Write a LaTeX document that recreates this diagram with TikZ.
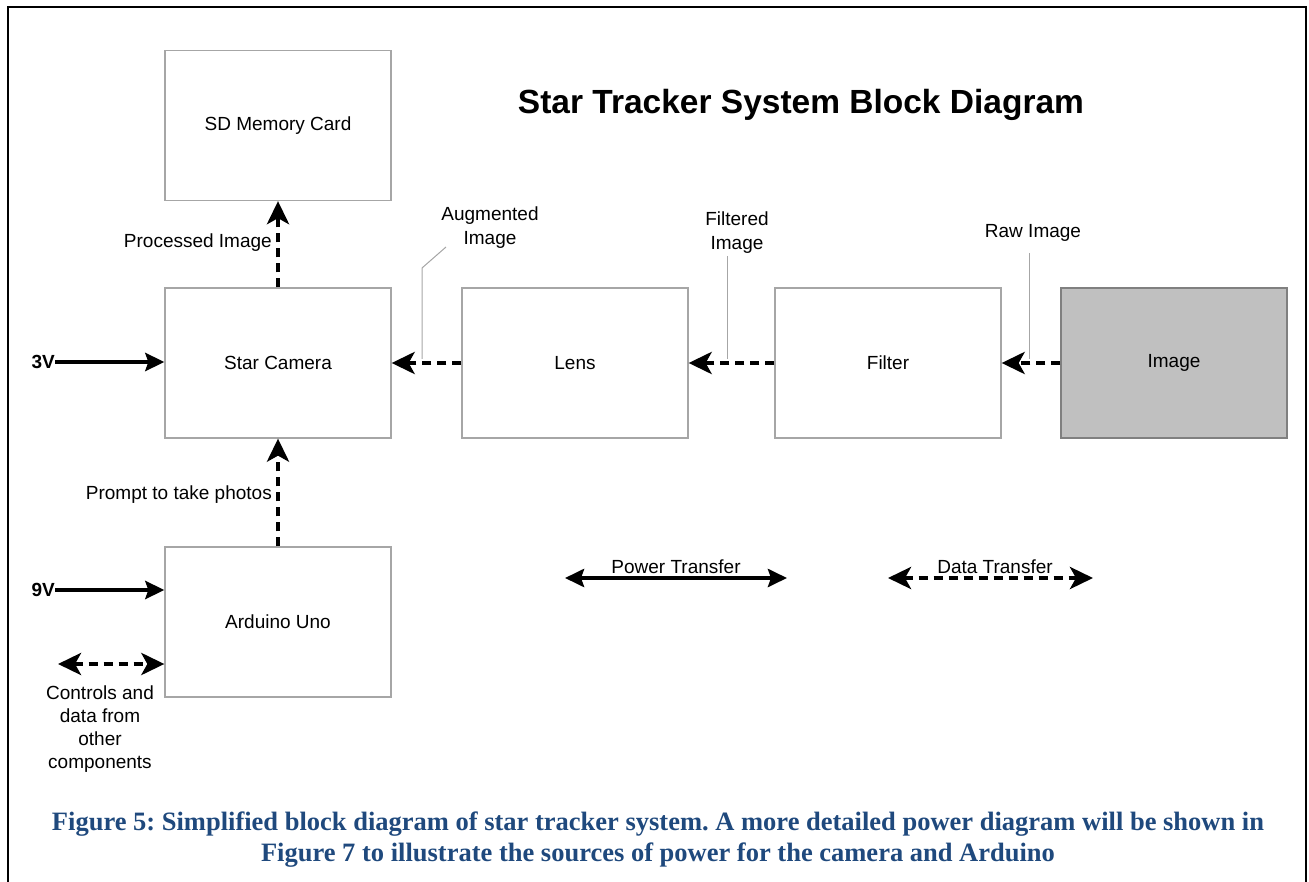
\documentclass[tikz,border=0pt]{standalone}
\usepackage{fontspec}
\setmainfont{Liberation Sans}
\newfontfamily\capfont{Liberation Serif}
\usetikzlibrary{arrows.meta}
\definecolor{capblue}{HTML}{1F497D}
\definecolor{boxgray}{HTML}{A6A6A6}
\definecolor{imgfill}{HTML}{C0C0C0}
\tikzset{
  blockbox/.style={draw=boxgray, line width=1.3pt, minimum width=226pt, minimum height=150pt, inner sep=0pt, font=\fontsize{19}{23}\selectfont},
  lbl/.style={font=\fontsize{19}{24}\selectfont, inner sep=0pt, align=center},
  pwr/.style={line width=4.5pt, -{Stealth[length=19pt,width=18pt,inset=3pt]}},
  pwrboth/.style={line width=4.5pt, {Stealth[length=19pt,width=18pt,inset=3pt]}-{Stealth[length=19pt,width=18pt,inset=3pt]}},
  dat/.style={line width=4.5pt, dash pattern=on 9pt off 6pt, -{Stealth[length=23pt,width=22pt,inset=6pt]}},
  datboth/.style={line width=4.5pt, dash pattern=on 9pt off 6pt, {Stealth[length=23pt,width=22pt,inset=6pt]}-{Stealth[length=23pt,width=22pt,inset=6pt]}},
  leader/.style={draw=boxgray, line width=1pt}
}
\begin{document}
\begin{tikzpicture}[x=1pt,y=-1pt]
\useasboundingbox (0,0) rectangle (1309,882);
% frame
\draw[line width=2.5pt] (8,890) -- (8,7) -- (1306,7) -- (1306,890);
% title
\node[font=\bfseries\fontsize{33.5}{36}\selectfont, inner sep=0pt] (title) at (801,105) {Star Tracker System Block Diagram};
% blocks
\node[blockbox] (sd) at (278,125.5) {SD Memory Card};
\node[blockbox] (cam) at (278,363) {Star Camera};
\node[blockbox] (lens) at (575,363) {Lens};
\node[blockbox] (filter) at (888,363) {Filter};
\node[blockbox, fill=imgfill, draw=gray] (img) at (1174,363) {Image};
\node[blockbox] (ard) at (278,622) {Arduino Uno};
% data flows
\draw[dat] (cam.north) -- (sd.south);
\node[lbl, anchor=east] (proc) at (272,243) {Processed Image};
\draw[dat] (lens.west) -- (cam.east);
\draw[dat] (filter.west) -- (lens.east);
\draw[dat] (img.west) -- (filter.east);
\draw[dat] (ard.north) -- (cam.south);
\node[lbl, anchor=east] (prompt) at (272,495) {Prompt to take photos};
% labels with leaders
\node[lbl] (aug) at (490,228) {Augmented\\Image};
\node[lbl] (filt) at (737,233) {Filtered\\Image};
\node[lbl] (raw) at (1033,233) {Raw Image};
\coordinate (augA) at (446,247);
\coordinate (augB) at (422,268);
\coordinate (augC) at (422,359);
\draw[leader] (augA) -- (augB) -- (augC);
\coordinate (filA) at (727,256);
\coordinate (filB) at (727,359);
\draw[leader] (filA) -- (filB);
\coordinate (rawA) at (1029,253);
\coordinate (rawB) at (1029,359);
\draw[leader] (rawA) -- (rawB);
% power inputs
\node[lbl, font=\bfseries\fontsize{19}{23}\selectfont, anchor=east] (v3) at (55,362) {3V};
\draw[pwr] (v3.east) -- (v3.east -| cam.west);
\node[lbl, font=\bfseries\fontsize{19}{23}\selectfont, anchor=east] (v9) at (55,590) {9V};
\draw[pwr] (v9.east) -- (v9.east -| ard.west);
% controls
\coordinate (ctlL) at (58,664);
\draw[datboth] (ctlL) -- (ctlL -| ard.west);
\node[lbl, font=\fontsize{19}{23}\selectfont] (ctl) at (100,729.5) {Controls and\\data from\\other\\components};
% legend
\coordinate (pwL) at (565,578);
\coordinate (pwR) at (787,578);
\draw[pwrboth] (pwL) -- (pwR);
\node[lbl] (pwlbl) at (676,567) {Power Transfer};
\coordinate (dtL) at (888,578);
\coordinate (dtR) at (1093,578);
\draw[datboth] (dtL) -- (dtR);
\node[lbl] (dtlbl) at (995,567) {Data Transfer};
% caption
\node[font=\capfont\bfseries\fontsize{26.5}{31}\selectfont, text=capblue, align=center, inner sep=0pt] (cap) at (658,840) {\frenchspacing Figure 5: Simplified block diagram of star tracker system. A more detailed power diagram will be shown in\\Figure 7 to illustrate the sources of power for the camera and Arduino};
\end{tikzpicture}
\end{document}
